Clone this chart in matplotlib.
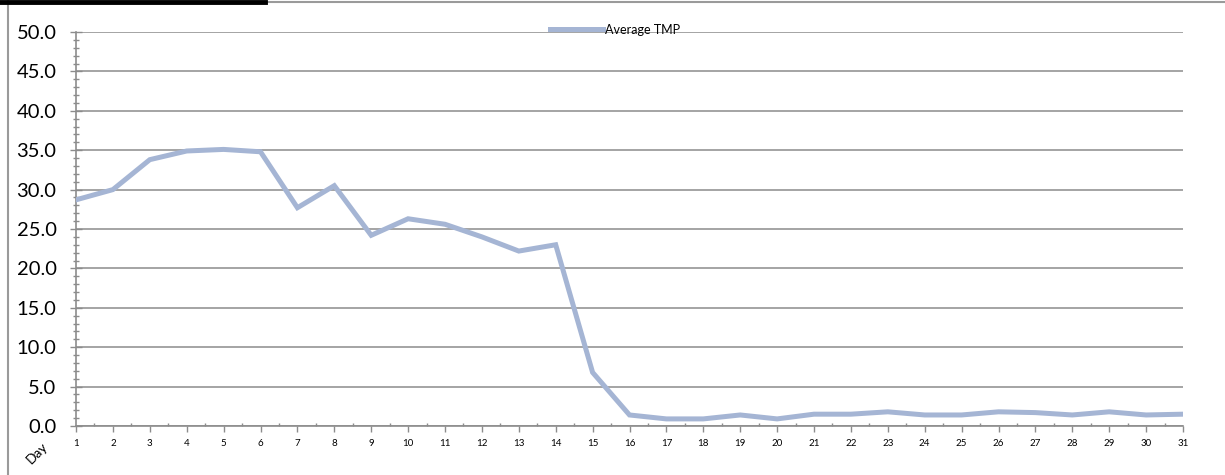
import matplotlib
matplotlib.use("Agg")
import matplotlib.pyplot as plt
from matplotlib.lines import Line2D
import numpy as np

days = list(range(1, 32))
avg_tmp = [28.7, 30.0, 33.8, 34.9, 35.1, 34.8, 27.7, 30.5, 24.2, 26.3,
           25.6, 24.0, 22.2, 23.0, 6.8, 1.4, 0.9, 0.9, 1.4, 0.9,
           1.5, 1.5, 1.8, 1.4, 1.4, 1.8, 1.7, 1.4, 1.8, 1.4, 1.5]
y_ticks = np.arange(0, 50.1, 5)

plt.rcParams['font.family'] = ['Lato', 'DejaVu Sans']
grid_col = '#8c8c8c'

fig = plt.figure(figsize=(12.25, 4.75), dpi=100)
ax = fig.add_axes([76/1225, 1 - 426/475, (1183 - 76)/1225, (426 - 32)/475])

ax.plot(days, avg_tmp, color='#a5b5d4', linewidth=3.6, label='Average TMP',
        solid_joinstyle='miter', zorder=3)

ax.set_xlim(1, 31)
ax.set_ylim(0, 50)
ax.set_yticks(y_ticks)
ax.set_yticklabels([f'{v:.1f}' for v in y_ticks], fontsize=14.5)
ax.set_yticks(np.arange(0, 50.1, 1), minor=True)
ax.set_xticks(days)
ax.set_xticklabels([str(d) for d in days], fontsize=7)
ax.set_xticks(np.arange(1.5, 31, 1), minor=True)

ax.yaxis.grid(True, color=grid_col, linewidth=1.1)
ax.set_axisbelow(True)
for s in ['top', 'right']:
    ax.spines[s].set_visible(False)
for s in ['left', 'bottom']:
    ax.spines[s].set_color(grid_col)
    ax.spines[s].set_linewidth(1.2)

ax.tick_params(axis='y', which='major', direction='inout', length=8, width=1,
               color=grid_col, pad=10)
ax.tick_params(axis='y', which='minor', direction='inout', length=5, width=1,
               color=grid_col)
ax.tick_params(axis='x', which='major', direction='out', length=4, width=1,
               color=grid_col, pad=5)
ax.tick_params(axis='x', which='minor', direction='in', length=2.5, width=1,
               color=grid_col)

ax.legend(loc='upper center', bbox_to_anchor=(0.487, 1.05), frameon=False,
          fontsize=9, handlelength=4.2, handletextpad=0.2)

fig.text(37/1225, 1 - 453/475, 'Day', rotation=45, fontsize=10,
         ha='center', va='center')

# frame pieces around the chart
fig.add_artist(Line2D([8/1225, 8/1225], [0, 1], color='#9a9a9a', linewidth=1.5))
fig.add_artist(Line2D([265/1225, 1], [1 - 2/475, 1 - 2/475], color='#9a9a9a', linewidth=1.5))
fig.add_artist(Line2D([0, 265/1225], [1 - 2/475, 1 - 2/475], color='black', linewidth=3.5))

fig.savefig('out.png', dpi=100)
